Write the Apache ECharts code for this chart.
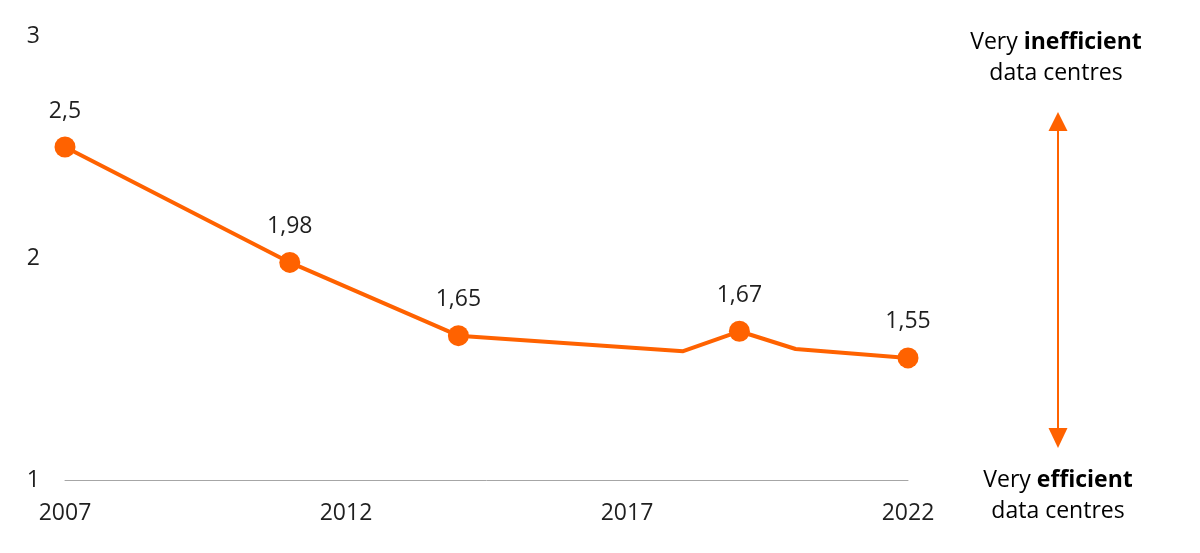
<!DOCTYPE html>
<html>
<head>
<meta charset="utf-8">
<script src="https://cdn.jsdelivr.net/npm/echarts@6/dist/echarts.min.js"></script>
<style>
  html, body { margin: 0; padding: 0; background: #fff; }
  #chart { width: 1200px; height: 553px; }
</style>
</head>
<body>
<div id="chart"></div>
<script>
// --- data ---
const years = [2007, 2011, 2014, 2018, 2019, 2020, 2022];
const pue = [2.5, 1.98, 1.65, 1.58, 1.67, 1.59, 1.55];
const showMarker = [true, true, true, false, true, false, true];
const yTicks = [1, 2, 3];
const topNote = ['Very ', 'inefficient', 'data centres'];
const bottomNote = ['Very ', 'efficient', 'data centres'];

const ORANGE = '#FF6200';
const INK = '#1f1f1f';
const FONT = '"Open Sans", "Noto Sans", sans-serif';

const chart = echarts.init(document.getElementById('chart'));

const seriesData = years.map((y, i) => ({
  value: [y, pue[i]],
  symbol: showMarker[i] ? 'circle' : 'none',
  label: { show: showMarker[i] },
}));

const noteRich = {
  n: { fontSize: 23, fontFamily: FONT, color: INK, lineHeight: 31 },
  b: { fontSize: 23, fontFamily: FONT, fontWeight: 'bold', color: INK, lineHeight: 31 },
};
const noteText = parts => '{n|' + parts[0] + '}{b|' + parts[1] + '}\n{n|' + parts[2] + '}';

chart.setOption({
  animation: false,
  textStyle: { fontFamily: FONT },
  grid: { left: 65, right: 292, top: 36, bottom: 73 },
  xAxis: {
    type: 'value', min: 2007, max: 2022, interval: 5,
    axisLine: { show: true, onZero: false, lineStyle: { color: '#a6a6a6', width: 1 } },
    axisTick: { show: false },
    splitLine: { show: false },
    axisLabel: { color: INK, fontSize: 23, margin: 22, fontFamily: FONT, formatter: v => String(v) },
  },
  yAxis: {
    type: 'value', min: yTicks[0], max: yTicks[yTicks.length - 1], interval: 1,
    axisLine: { show: false },
    axisTick: { show: false },
    splitLine: { show: false },
    axisLabel: { color: INK, fontSize: 23, margin: 25, fontFamily: FONT },
  },
  series: [{
    type: 'line',
    data: seriesData,
    symbolSize: 21,
    lineStyle: { color: ORANGE, width: 4 },
    itemStyle: { color: ORANGE },
    label: {
      position: 'top', distance: 14, color: INK, fontSize: 23, fontFamily: FONT,
      formatter: p => String(p.value[1]).replace('.', ','),
    },
  }],
  graphic: [
    {
      type: 'text', x: 1056, y: 27,
      style: { text: noteText(topNote), align: 'center', verticalAlign: 'top', rich: noteRich },
    },
    {
      type: 'text', x: 1058, y: 465,
      style: { text: noteText(bottomNote), align: 'center', verticalAlign: 'top', rich: noteRich },
    },
    // double-headed arrow
    { type: 'line', shape: { x1: 1058, y1: 128, x2: 1058, y2: 430 }, style: { stroke: ORANGE, lineWidth: 2 } },
    { type: 'polygon', shape: { points: [[1058, 112], [1048.5, 131], [1067.5, 131]] }, style: { fill: ORANGE } },
    { type: 'polygon', shape: { points: [[1058, 448], [1048.5, 428], [1067.5, 428]] }, style: { fill: ORANGE } },
  ],
});
</script>
</body>
</html>
